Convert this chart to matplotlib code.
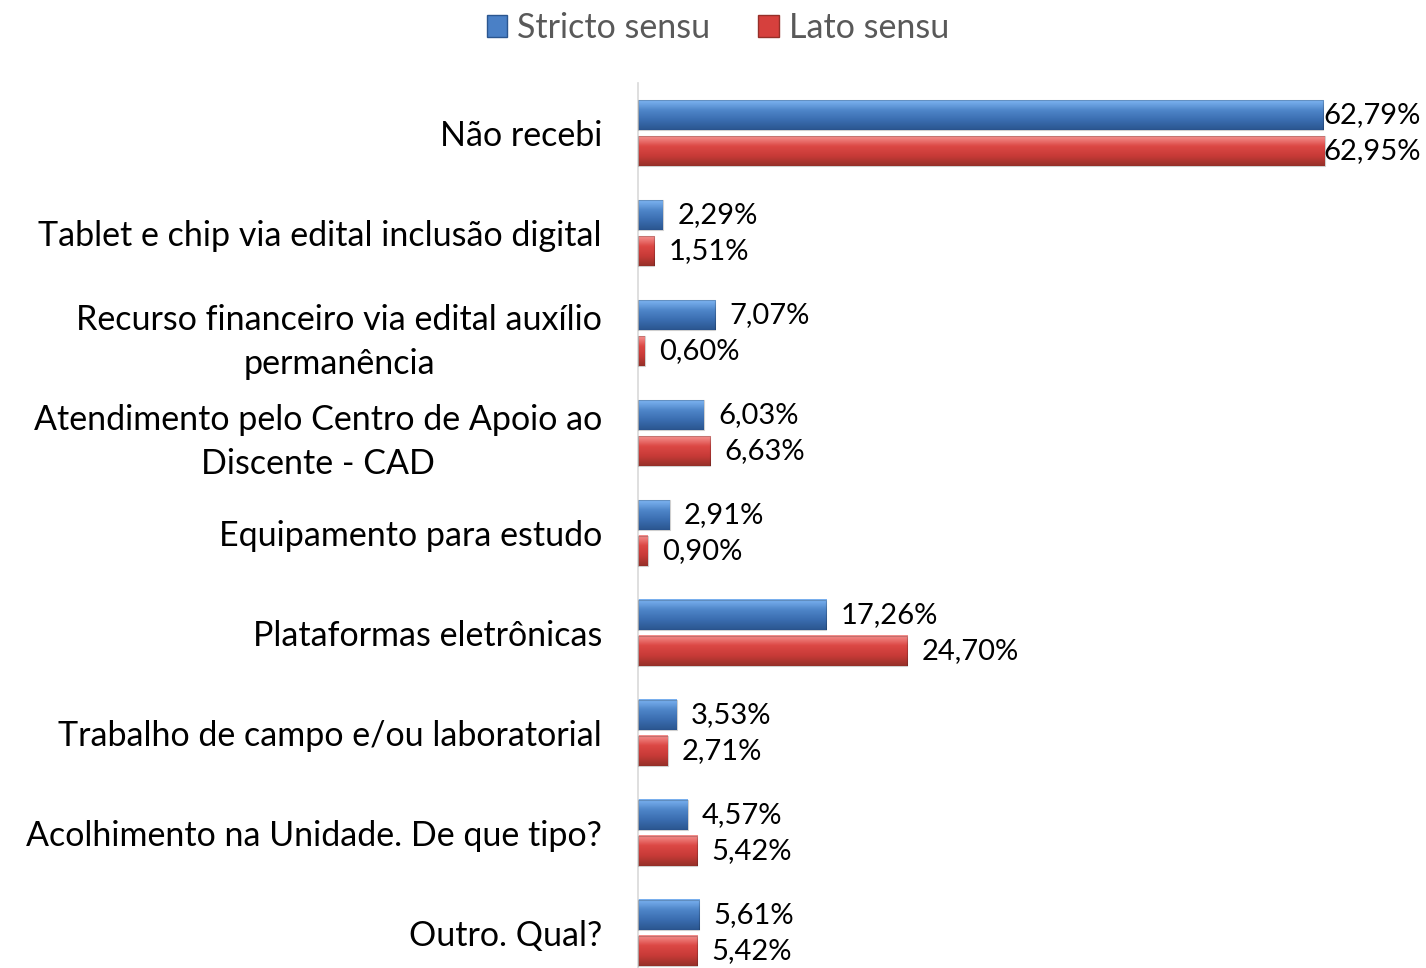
import numpy as np
import matplotlib.pyplot as plt
from matplotlib.patches import Patch
from matplotlib.colors import LinearSegmentedColormap

categories = [
    "Não recebi",
    "Tablet e chip via edital inclusão digital",
    "Recurso financeiro via edital auxílio\npermanência",
    "Atendimento pelo Centro de Apoio ao\nDiscente - CAD",
    "Equipamento para estudo",
    "Plataformas eletrônicas",
    "Trabalho de campo e/ou laboratorial",
    "Acolhimento na Unidade. De que tipo?",
    "Outro. Qual?",
]
stricto = [62.79, 2.29, 7.07, 6.03, 2.91, 17.26, 3.53, 4.57, 5.61]
lato = [62.95, 1.51, 0.60, 6.63, 0.90, 24.70, 2.71, 5.42, 5.42]
series_names = ["Stricto sensu", "Lato sensu"]

blue_cmap = LinearSegmentedColormap.from_list("b", ["#7db4f2", "#4f86c9", "#3a6db0", "#2b568f"])
red_cmap = LinearSegmentedColormap.from_list("r", ["#f59290", "#dc4845", "#c73a37", "#953029"])

plt.rcParams['font.family'] = ['Lato', 'DejaVu Sans']

W, H = 1426, 968
fig = plt.figure(figsize=(W / 100, H / 100), dpi=100)
x0, x1 = 638, 1426
y_top, y_bot = 83, 968
ax = fig.add_axes([x0 / W, 1 - y_bot / H, (x1 - x0) / W, (y_bot - y_top) / H])

xmax = (x1 - x0) / 10.91
ax.set_xlim(0, xmax)
ax.set_ylim(8.35, -0.5)

grad = np.linspace(0, 1, 64).reshape(-1, 1)
bh = 0.30
off = 0.18


def gradient_bar(y, w, cmap):
    if w <= 0:
        return
    ax.imshow(grad, cmap=cmap, aspect='auto', extent=(0, w, y + bh / 2, y - bh / 2),
              interpolation='bicubic', zorder=2)
    ax.add_patch(plt.Rectangle((0, y - bh / 2), w, bh, fill=False,
                               edgecolor='#00000030', lw=0.8, zorder=3))


for i, (s, l) in enumerate(zip(stricto, lato)):
    for v, y, cm in [(s, i - off, blue_cmap), (l, i + off, red_cmap)]:
        gradient_bar(y, v, cm)
        txt = f"{v:.2f}%".replace('.', ',')
        if v > 55:
            ax.text(xmax - 0.5, y, txt, ha='right', va='center', fontsize=21, color='black')
        else:
            ax.text(v + 1.3, y, txt, ha='left', va='center', fontsize=21, color='black')

ax.set_xlim(0, xmax)
ax.set_ylim(8.35, -0.5)
ax.set_yticks(range(len(categories)))
ax.set_yticklabels(categories, fontsize=24.5, color='black', linespacing=1.45)
ax.tick_params(axis='y', length=0, pad=26)
ax.set_xticks([])
for sp in ['top', 'right', 'bottom']:
    ax.spines[sp].set_visible(False)
ax.spines['left'].set_color('#d9d9d9')
ax.spines['left'].set_linewidth(1.2)
for t in ax.get_yticklabels():
    t.set_horizontalalignment('right')
    t.set_multialignment('center')

handles = [Patch(facecolor='#4a80c6', edgecolor='#2b568f'),
           Patch(facecolor='#d6403d', edgecolor='#953029')]
fig.legend(handles, series_names, loc='center', bbox_to_anchor=(718 / W, 1 - 28 / H),
           ncol=2, frameon=False, fontsize=24.5, labelcolor='#595959',
           handlelength=0.6, handleheight=0.6, handletextpad=0.3, columnspacing=1.4)

fig.savefig("out.png", dpi=100)
